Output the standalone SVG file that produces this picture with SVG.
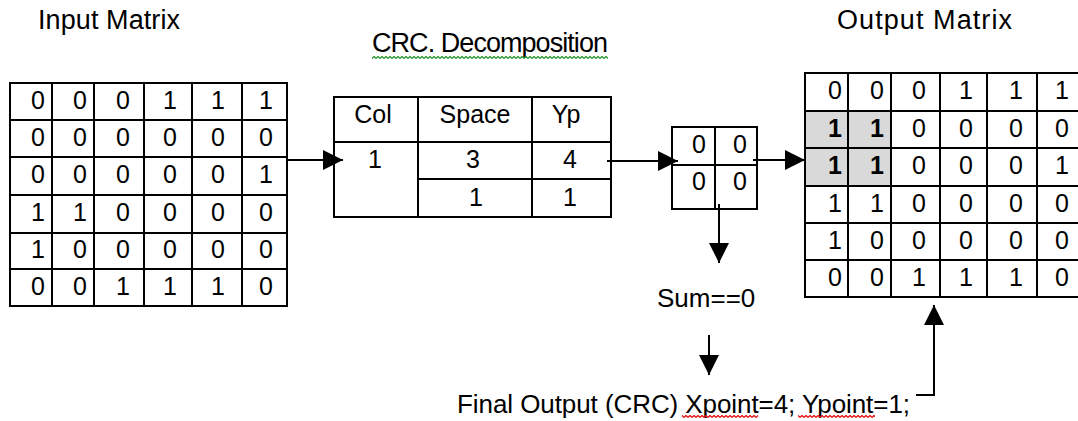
<svg xmlns="http://www.w3.org/2000/svg" width="1078" height="421" viewBox="0 0 1078 421">
  <style>
    text { font-family: "Liberation Sans", Arial, sans-serif; fill: #000; }
    .t { font-size: 27px; }
    .d { font-size: 25px; text-anchor: middle; }
    .b { font-weight: bold; }
    .lbl { font-size: 26px; }
    .grid { fill: none; stroke: #000; stroke-width: 2; }
    .conn { fill: none; stroke: #000; stroke-width: 2; marker-end: url(#ah); }
  </style>
  <defs>
    <marker id="ah" markerUnits="userSpaceOnUse" markerWidth="20" markerHeight="20" refX="20" refY="10" orient="auto">
      <path d="M0,0 L20,10 L0,20 Z" fill="#000"/>
    </marker>
    <pattern id="sqG" patternUnits="userSpaceOnUse" x="0" y="56" width="4" height="3">
      <path d="M0,2.5 L2,0.5 L4,2.5" fill="none" stroke="#2e9a36" stroke-width="1.4"/>
    </pattern>
    <pattern id="sqR" patternUnits="userSpaceOnUse" x="0" y="415" width="4" height="3">
      <path d="M0,2.5 L2,0.5 L4,2.5" fill="none" stroke="#e01818" stroke-width="1.4"/>
    </pattern>
  </defs>
  <rect width="1078" height="421" fill="#fff"/>

  <g id="title-input">
    <text class="t" x="38" y="29" textLength="142" lengthAdjust="spacing">Input Matrix</text>
  </g>
  <g id="title-crc">
    <text class="t" x="372" y="52" textLength="236" lengthAdjust="spacing">CRC. Decomposition</text>
    <rect x="372" y="56" width="236" height="3" fill="url(#sqG)"/>
  </g>
  <g id="title-output">
    <text class="t" x="837" y="29" textLength="175" lengthAdjust="spacing">Output Matrix</text>
  </g>

  <g id="input-matrix">
    <rect class="grid" x="10" y="83" width="277" height="223"/>
    <path class="grid" d="M52,83V306M94,83V306M144,83V306M192,83V306M242,83V306M10,120H287M10,157H287M10,195H287M10,233H287M10,269H287"/>
    <g class="d">
      <text x="38" y="109">0</text><text x="80" y="109">0</text><text x="123" y="109">0</text><text x="170" y="109">1</text><text x="218" y="109">1</text><text x="266" y="109">1</text>
      <text x="38" y="146">0</text><text x="80" y="146">0</text><text x="123" y="146">0</text><text x="170" y="146">0</text><text x="218" y="146">0</text><text x="266" y="146">0</text>
      <text x="38" y="183">0</text><text x="80" y="183">0</text><text x="123" y="183">0</text><text x="170" y="183">0</text><text x="218" y="183">0</text><text x="266" y="183">1</text>
      <text x="38" y="221">1</text><text x="80" y="221">1</text><text x="123" y="221">0</text><text x="170" y="221">0</text><text x="218" y="221">0</text><text x="266" y="221">0</text>
      <text x="38" y="258">1</text><text x="80" y="258">0</text><text x="123" y="258">0</text><text x="170" y="258">0</text><text x="218" y="258">0</text><text x="266" y="258">0</text>
      <text x="38" y="295">0</text><text x="80" y="295">0</text><text x="123" y="295">1</text><text x="170" y="295">1</text><text x="218" y="295">1</text><text x="266" y="295">0</text>
    </g>
  </g>

  <g id="crc-table">
    <rect class="grid" x="334" y="97" width="277" height="120"/>
    <path class="grid" d="M418,97V217M532,97V217M334,142H611M418,179H611"/>
    <g class="d">
      <text x="373" y="123">Col</text><text x="475" y="123">Space</text><text x="566" y="123">Yp</text>
      <text x="375" y="168">1</text><text x="473" y="168">3</text><text x="570" y="168">4</text>
      <text x="476" y="206">1</text><text x="570" y="206">1</text>
    </g>
  </g>

  <g id="block-2x2">
    <rect class="grid" x="672" y="127" width="85" height="82"/>
    <path class="grid" d="M715,127V209M672,165H757"/>
    <g class="d">
      <text x="699" y="153">0</text><text x="740" y="153">0</text>
      <text x="699" y="190">0</text><text x="740" y="190">0</text>
    </g>
  </g>

  <g id="sum-label">
    <text class="lbl" x="657" y="307">Sum==0</text>
  </g>

  <g id="final-output">
    <text class="lbl" x="457" y="413" textLength="453" lengthAdjust="spacing">Final Output (CRC) Xpoint=4; Ypoint=1;</text>
    <rect x="682" y="415" width="76" height="3" fill="url(#sqR)"/>
    <rect x="798" y="415" width="77" height="3" fill="url(#sqR)"/>
  </g>

  <g id="output-matrix">
    <rect x="805" y="111" width="86" height="75" fill="#d9d9d9"/>
    <rect class="grid" x="805" y="73" width="275" height="224"/>
    <path class="grid" d="M848,73V297M891,73V297M940,73V297M987,73V297M1037,73V297M805,111H1080M805,148H1080M805,186H1080M805,223H1080M805,260H1080"/>
    <g class="d">
      <text x="835" y="99">0</text><text x="877" y="99">0</text><text x="919" y="99">0</text><text x="966" y="99">1</text><text x="1016" y="99">1</text><text x="1062" y="99">1</text>
      <text class="b" x="835" y="137">1</text><text class="b" x="877" y="137">1</text><text x="919" y="137">0</text><text x="966" y="137">0</text><text x="1016" y="137">0</text><text x="1062" y="137">0</text>
      <text class="b" x="835" y="174">1</text><text class="b" x="877" y="174">1</text><text x="919" y="174">0</text><text x="966" y="174">0</text><text x="1016" y="174">0</text><text x="1062" y="174">1</text>
      <text x="835" y="212">1</text><text x="877" y="212">1</text><text x="919" y="212">0</text><text x="966" y="212">0</text><text x="1016" y="212">0</text><text x="1062" y="212">0</text>
      <text x="835" y="249">1</text><text x="877" y="249">0</text><text x="919" y="249">0</text><text x="966" y="249">0</text><text x="1016" y="249">0</text><text x="1062" y="249">0</text>
      <text x="835" y="286">0</text><text x="877" y="286">0</text><text x="919" y="286">1</text><text x="966" y="286">1</text><text x="1016" y="286">1</text><text x="1062" y="286">0</text>
    </g>
  </g>

  <g id="connectors">
    <path class="conn" d="M288,160H343"/>
    <path class="conn" d="M607,161H678"/>
    <path class="conn" d="M753,160H805"/>
    <path class="conn" d="M719,204V263"/>
    <path class="conn" d="M709,335V375"/>
    <path class="conn" d="M916,395H934V305"/>
  </g>
</svg>
